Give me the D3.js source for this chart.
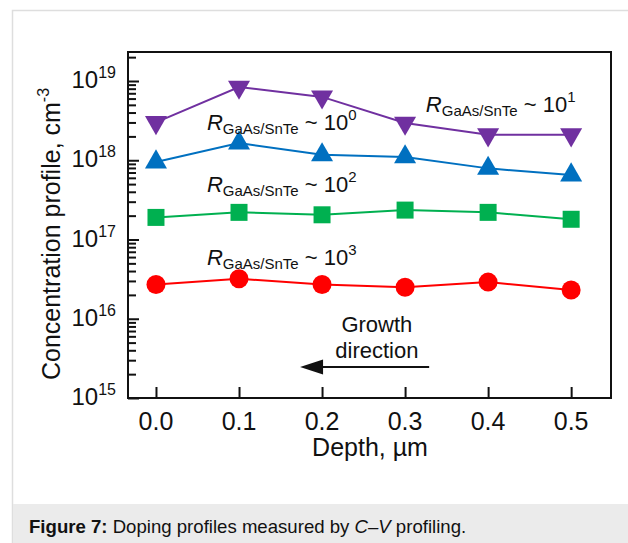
<!DOCTYPE html>
<html>
<head>
<meta charset="utf-8">
<script src="https://cdn.jsdelivr.net/npm/d3@7"></script>
<style>
  html, body { margin: 0; padding: 0; background: #fff; }
  svg { display: block; font-family: Arial, "Liberation Sans", sans-serif; }
</style>
</head>
<body>
<svg id="chart" width="628" height="543"></svg>
<script>
// Depth positions (µm)
const depth = [0.0, 0.1, 0.2, 0.3, 0.4, 0.5];

// Carrier concentration (cm^-3) for each GaAs/SnTe flux ratio
const ratio1e1 = [3.0e18, 8.4e18, 6.3e18, 2.95e18, 2.1e18, 2.1e18];
const ratio1e0 = [9.5e17, 1.65e18, 1.17e18, 1.1e18, 7.9e17, 6.5e17];
const ratio1e2 = [1.9e17, 2.2e17, 2.05e17, 2.35e17, 2.2e17, 1.8e17];
const ratio1e3 = [2.7e16, 3.2e16, 2.7e16, 2.5e16, 2.9e16, 2.3e16];

// Axis ticks
const xTicks = [0.0, 0.1, 0.2, 0.3, 0.4, 0.5];
const xTickLabels = ["0.0", "0.1", "0.2", "0.3", "0.4", "0.5"];
const yExponents = [15, 16, 17, 18, 19];

const series = [
  { values: ratio1e1, color: "#7030A0", symbol: d3.symbolTriangle, size: 210, rotate: 180 },
  { values: ratio1e0, color: "#0070C0", symbol: d3.symbolTriangle, size: 210, rotate: 0 },
  { values: ratio1e2, color: "#00B050", symbol: d3.symbolSquare, size: 289, rotate: 0 },
  { values: ratio1e3, color: "#FF0000", symbol: d3.symbolCircle, size: 283, rotate: 0 }
];

// Annotation labels: exponent, anchor depth, anchor concentration
const ratioLabels = [
  { exp: "1", x: 0.325, y: 4.06e18 },
  { exp: "0", x: 0.0614, y: 2.41e18 },
  { exp: "2", x: 0.0614, y: 3.97e17 },
  { exp: "3", x: 0.0614, y: 4.77e16 }
];

const svg = d3.select("#chart");
const W = 628, H = 543;

// Page frame and caption band
svg.append("rect").attr("x", 12.5).attr("y", 10.5).attr("width", W).attr("height", H)
  .attr("fill", "#fff").attr("stroke", "#dedede").attr("stroke-width", 1.5);
svg.append("rect").attr("x", 13).attr("y", 504).attr("width", W - 13).attr("height", H - 504)
  .attr("fill", "#ebebeb");
const cap = svg.append("text").attr("x", 29).attr("y", 533)
  .attr("font-size", 18.6).attr("fill", "#111");
cap.append("tspan").attr("font-weight", "bold").text("Figure 7:");
cap.append("tspan").text(" Doping profiles measured by ");
cap.append("tspan").attr("font-style", "italic").text("C–V");
cap.append("tspan").text(" profiling.");

// Plot area
const plot = { left: 128, right: 611, top: 52, bottom: 398 };

const x = d3.scaleLinear()
  .domain([-0.0337, 0.548])
  .range([plot.left, plot.right]);
const y = d3.scaleLog()
  .domain([1e15, Math.pow(10, 19.366)])
  .range([plot.bottom, plot.top]);

const g = svg.append("g");

// Bottom axis ticks (inward)
const xAxis = d3.axisBottom(x).tickValues(xTicks).tickSize(-11).tickFormat("");
g.append("g").attr("transform", `translate(0,${plot.bottom})`).call(xAxis)
  .call(s => s.select(".domain").remove())
  .call(s => s.selectAll("line").attr("stroke", "#111").attr("stroke-width", 2));

g.selectAll(".xlab").data(xTicks).join("text")
  .attr("x", d => x(d)).attr("y", 430)
  .attr("text-anchor", "middle").attr("font-size", 25).attr("fill", "#111")
  .text((d, i) => xTickLabels[i]);

// Left axis: major and minor ticks (inward)
const minorTicks = [];
yExponents.forEach(e => {
  for (let m = 2; m <= 9; m++) {
    const v = m * Math.pow(10, e);
    if (v <= y.domain()[1]) minorTicks.push(v);
  }
});
const majorTicks = yExponents.map(e => Math.pow(10, e));

g.append("g").attr("transform", `translate(${plot.left},0)`)
  .call(d3.axisLeft(y).tickValues(minorTicks).tickSize(-8).tickFormat(""))
  .call(s => s.select(".domain").remove())
  .call(s => s.selectAll("line").attr("stroke", "#111").attr("stroke-width", 2));
g.append("g").attr("transform", `translate(${plot.left},0)`)
  .call(d3.axisLeft(y).tickValues(majorTicks).tickSize(-11).tickFormat(""))
  .call(s => s.select(".domain").remove())
  .call(s => s.selectAll("line").attr("stroke", "#111").attr("stroke-width", 2));

const ylab = g.selectAll(".ylab").data(yExponents).join("text")
  .attr("x", 116).attr("y", d => y(Math.pow(10, d)) + 7)
  .attr("text-anchor", "end").attr("font-size", 24).attr("fill", "#111");
ylab.append("tspan").text("10");
ylab.append("tspan").attr("font-size", 16).attr("dy", -10).text(d => d);

// Frame around plot
g.append("rect")
  .attr("x", plot.left).attr("y", plot.top)
  .attr("width", plot.right - plot.left).attr("height", plot.bottom - plot.top)
  .attr("fill", "none").attr("stroke", "#111").attr("stroke-width", 2);

// Axis titles
const yt = svg.append("text")
  .attr("transform", "translate(60,234) rotate(-90)")
  .attr("text-anchor", "middle").attr("font-size", 25).attr("fill", "#111");
yt.append("tspan").text("Concentration profile, cm");
yt.append("tspan").attr("font-size", 16).attr("dy", -11).text("-3");

svg.append("text").attr("x", 370).attr("y", 456)
  .attr("text-anchor", "middle").attr("font-size", 25).attr("fill", "#111")
  .text("Depth, µm");

// Series lines and markers
const line = d3.line().x((d, i) => x(depth[i])).y(d => y(d));
series.forEach(s => {
  g.append("path").datum(s.values)
    .attr("d", line).attr("fill", "none")
    .attr("stroke", s.color).attr("stroke-width", 2);
  g.selectAll(null).data(s.values).join("path")
    .attr("d", d3.symbol().type(s.symbol).size(s.size))
    .attr("transform", (d, i) => `translate(${x(depth[i])},${y(d)}) rotate(${s.rotate})`)
    .attr("fill", s.color);
});

// Ratio annotations
ratioLabels.forEach(l => {
  const t = g.append("text").attr("x", x(l.x)).attr("y", y(l.y))
    .attr("font-size", 22).attr("fill", "#111");
  t.append("tspan").attr("font-style", "italic").text("R");
  t.append("tspan").attr("font-size", 15).attr("dy", 4).text("GaAs/SnTe");
  t.append("tspan").attr("dy", -4).text(" ~ 10");
  t.append("tspan").attr("font-size", 15).attr("dy", -10).text(l.exp);
});

// Growth direction note and arrow
const growth = { x: 0.266, y1: 6.8e15, y2: 3.2e15, arrowY: 2.46e15, from: 0.329, to: 0.1735 };
g.append("text").attr("x", x(growth.x)).attr("y", y(growth.y1))
  .attr("text-anchor", "middle").attr("font-size", 22).attr("fill", "#111").text("Growth");
g.append("text").attr("x", x(growth.x)).attr("y", y(growth.y2))
  .attr("text-anchor", "middle").attr("font-size", 22).attr("fill", "#111").text("direction");
const ay = y(growth.arrowY);
g.append("line").attr("x1", x(growth.from)).attr("x2", x(growth.to) + 20)
  .attr("y1", ay).attr("y2", ay).attr("stroke", "#111").attr("stroke-width", 2);
g.append("path")
  .attr("d", `M${x(growth.to)},${ay} L${x(growth.to) + 23},${ay - 7.5} L${x(growth.to) + 23},${ay + 7.5} Z`)
  .attr("fill", "#111");
</script>
</body>
</html>
